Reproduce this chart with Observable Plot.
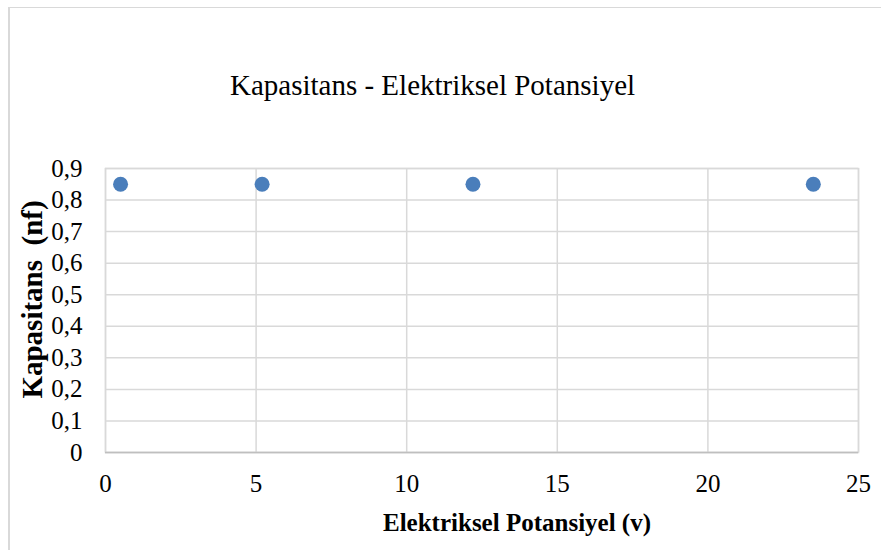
<!DOCTYPE html>
<html><head><meta charset="utf-8">
<script src="https://cdn.jsdelivr.net/npm/d3@7"></script>
<script src="https://cdn.jsdelivr.net/npm/@observablehq/plot@0.6"></script>
<style>
html,body{margin:0;padding:0;background:#fff;}
#wrap{position:relative;width:881px;height:550px;overflow:hidden;}
#border{position:absolute;left:8px;top:7px;width:900px;height:600px;border-left:2px solid #d9d9d9;border-top:1px solid #d9d9d9;}
#chart{position:absolute;left:0;top:0;}
</style></head><body>
<div id="wrap"><div id="border"></div><div id="chart"></div></div>
<script>
const title = "Kapasitans - Elektriksel Potansiyel";
const xLabel = "Elektriksel Potansiyel (v)";
const yLabel = "Kapasitans \u00a0(nf)";
const voltage = [0.5, 5.2, 12.2, 23.5];
const capacitance = [0.85, 0.85, 0.85, 0.85];
const xTicks = [0, 5, 10, 15, 20, 25];
const yTicks = [0, 0.1, 0.2, 0.3, 0.4, 0.5, 0.6, 0.7, 0.8, 0.9];

const data = voltage.map((v, i) => ({v, c: capacitance[i]}));
const fmt = d => String(d).replace(".", ",");
const serif = '"Liberation Serif","Times New Roman",serif';
const grid = "#d9d9d9";

const plot = Plot.plot({
  width: 881, height: 550,
  marginLeft: 105, marginRight: 23, marginTop: 168, marginBottom: 98,
  style: {fontFamily: serif, background: "transparent", color: "#000"},
  x: {domain: [0, 25]},
  y: {domain: [0, 0.9]},
  marks: [
    Plot.gridX(xTicks, {stroke: grid, strokeOpacity: 1, strokeWidth: 1.5}),
    Plot.gridY(yTicks, {stroke: grid, strokeOpacity: 1, strokeWidth: 1.5}),
    Plot.frame({stroke: grid, strokeWidth: 1.5}),
    Plot.ruleY([0], {stroke: "#bfbfbf", strokeWidth: 1.5}),
    Plot.axisX(xTicks, {tickSize: 0, tickPadding: 22, fontSize: 25, label: null, tickFormat: fmt}),
    Plot.axisY(yTicks, {tickSize: 0, tickPadding: 23, fontSize: 25, label: null, tickFormat: fmt}),
    Plot.dot(data, {x: "v", y: "c", r: 7.5, fill: "#4a7ebb", stroke: null}),
    Plot.text([title], {text: d => d, frameAnchor: "top", dx: -49.5, dy: -83, fontSize: 29, textAnchor: "middle", lineAnchor: "middle"}),
    Plot.text([xLabel], {text: d => d, frameAnchor: "bottom", dx: 35, dy: 70, fontSize: 25, fontWeight: "bold", textAnchor: "middle", lineAnchor: "middle"}),
    Plot.text([yLabel], {text: d => d, frameAnchor: "left", dx: -73, dy: -11, rotate: -90, fontSize: 29, fontWeight: "bold", textAnchor: "middle", lineAnchor: "middle"})
  ]
});
document.getElementById("chart").appendChild(plot);
</script>
</body></html>
